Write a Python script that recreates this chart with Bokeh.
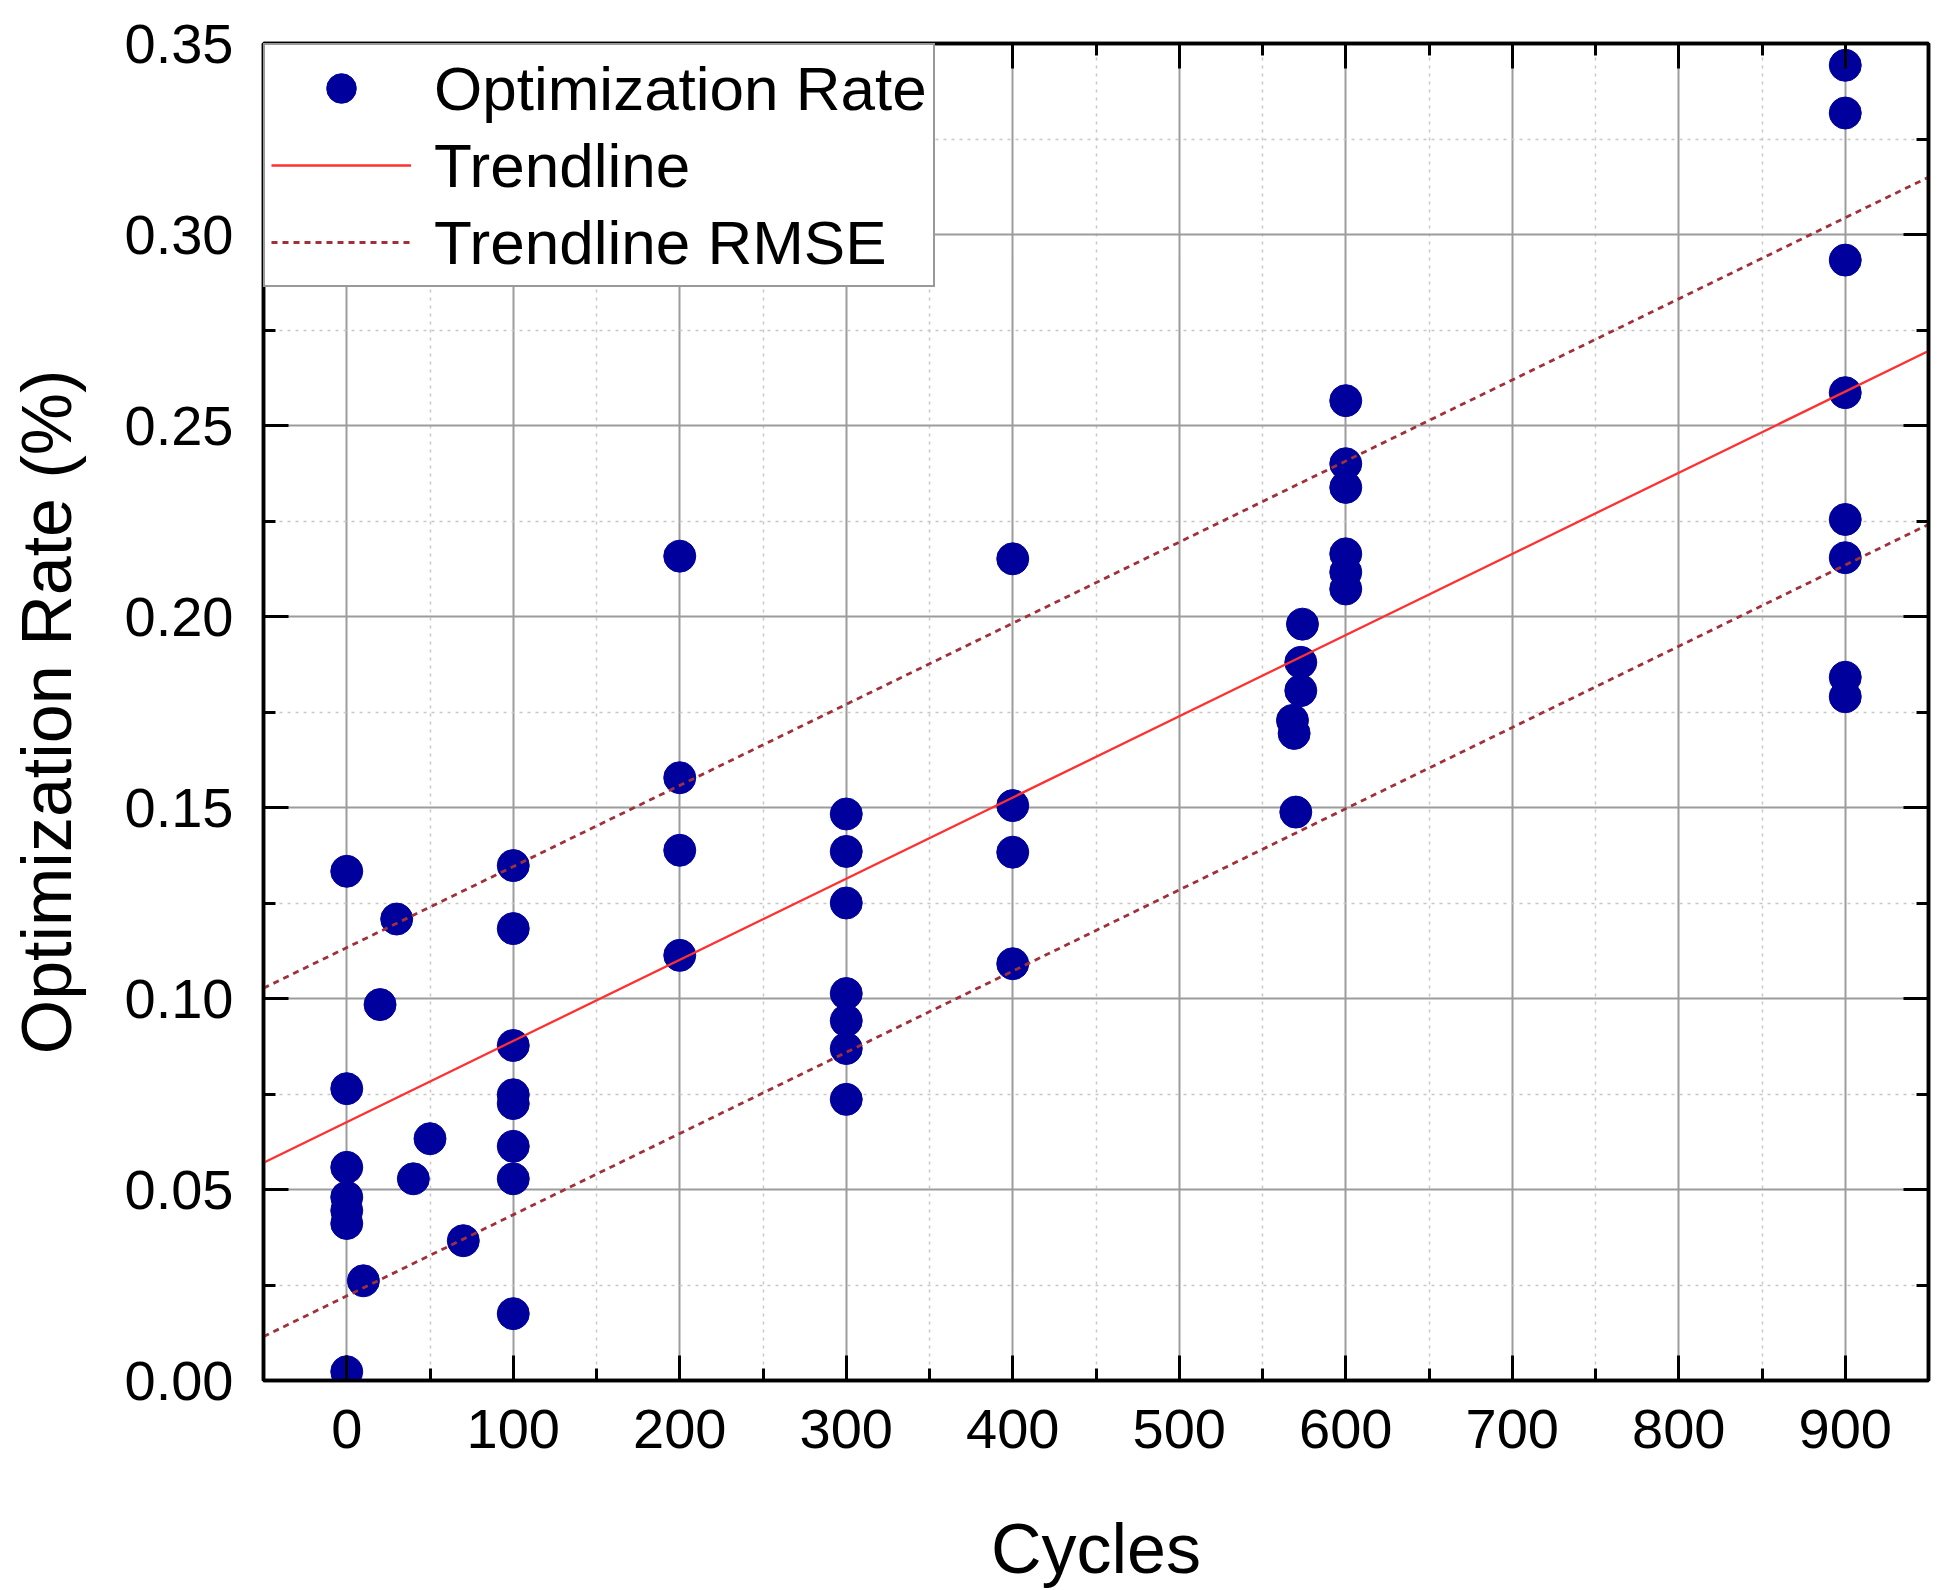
from bokeh.plotting import figure
from bokeh.models import LinearAxis, FixedTicker, PrintfTickFormatter, Legend, LegendItem
from bokeh.embed import file_html
from bokeh.resources import INLINE

# ---- data ----
cycles = [0, 0, 0, 0, 0, 0, 0,
          10, 20, 30, 40, 50, 70,
          100, 100, 100, 100, 100, 100, 100, 100,
          200, 200, 200, 200,
          300, 300, 300, 300, 300, 300, 300,
          400, 400, 400, 400,
          574, 573, 573, 568, 569, 570,
          600, 600, 600, 600, 600, 600,
          900, 900, 900, 900, 900, 900, 900, 900]
rate = [0.1333, 0.0764, 0.0558, 0.0480, 0.0445, 0.0411, 0.0023,
        0.0261, 0.0984, 0.1208, 0.0528, 0.0633, 0.0366,
        0.1348, 0.1183, 0.0877, 0.0748, 0.0725, 0.0613, 0.0528, 0.0175,
        0.2158, 0.1578, 0.1388, 0.1113,
        0.1483, 0.1385, 0.1250, 0.1013, 0.0942, 0.0869, 0.0736,
        0.2151, 0.1505, 0.1383, 0.1091,
        0.1980, 0.1880, 0.1806, 0.1728, 0.1694, 0.1488,
        0.2565, 0.2400, 0.2338, 0.2164, 0.2116, 0.2072,
        0.3443, 0.3318, 0.2933, 0.2586, 0.2254, 0.2154, 0.1841, 0.1790]

trend_x = [-50, 950]
trend_y = [0.0570, 0.2695]
rmse_upper = [0.1027, 0.3150]
rmse_lower = [0.0115, 0.2241]

x_ticks = [0, 100, 200, 300, 400, 500, 600, 700, 800, 900]
x_minor = [-50, 50, 150, 250, 350, 450, 550, 650, 750, 850, 950]
y_ticks = [0.00, 0.05, 0.10, 0.15, 0.20, 0.25, 0.30, 0.35]
y_minor = [0.025, 0.075, 0.125, 0.175, 0.225, 0.275, 0.325]

FONT = "Liberation Sans"

p = figure(width=1936, height=1590, x_range=(-50, 950), y_range=(0, 0.35),
           output_backend="svg", toolbar_location=None,
           x_axis_label="Cycles", y_axis_label="Optimization Rate (%)",
           min_border_left=263, min_border_right=8, min_border_top=43,
           min_border_bottom=209)
p.background_fill_color = "white"
p.border_fill_color = "white"
p.outline_line_color = "black"
p.outline_line_width = 3.5

xt = FixedTicker(ticks=x_ticks, minor_ticks=x_minor)
yt = FixedTicker(ticks=y_ticks, minor_ticks=y_minor)

def style_axis(ax, labels=True):
    ax.axis_line_color = "black"
    ax.axis_line_width = 3.5
    ax.major_tick_in = 25
    ax.major_tick_out = 0
    ax.minor_tick_in = 12
    ax.minor_tick_out = 0
    ax.major_tick_line_width = 3
    ax.minor_tick_line_width = 3
    ax.major_tick_line_color = "black"
    ax.minor_tick_line_color = "black"
    ax.major_label_text_font = FONT
    ax.axis_label_text_font = FONT
    ax.axis_label_text_font_style = "normal"
    ax.axis_label_text_color = "black"
    ax.major_label_text_color = "black"
    if labels:
        ax.major_label_text_font_size = "56px"
        ax.axis_label_text_font_size = "70px"
    else:
        ax.major_label_text_font_size = "0px"
        ax.major_label_standoff = 0

xa = p.xaxis[0]
ya = p.yaxis[0]
xa.ticker = xt
ya.ticker = yt
ya.formatter = PrintfTickFormatter(format="%.2f")
style_axis(xa)
style_axis(ya)
xa.major_label_standoff = 29
xa.axis_label_standoff = 59
ya.major_label_standoff = 30
ya.axis_label_standoff = 36

top = LinearAxis(ticker=FixedTicker(ticks=x_ticks, minor_ticks=x_minor))
top.major_label_overrides = {t: "" for t in x_ticks}
style_axis(top, labels=False)
p.add_layout(top, "above")
right = LinearAxis(ticker=FixedTicker(ticks=y_ticks, minor_ticks=y_minor))
right.major_label_overrides = {t: "" for t in y_ticks}
style_axis(right, labels=False)
p.add_layout(right, "right")

for g, tk in ((p.xgrid[0], xt), (p.ygrid[0], yt)):
    g.ticker = tk
    g.grid_line_color = "#9c9c9c"
    g.grid_line_width = 2
    g.minor_grid_line_color = "#c8c8c8"
    g.minor_grid_line_width = 1.5
    g.minor_grid_line_dash = "3 5"

pts = p.scatter(cycles, rate, size=32, color="#00009C", line_color="#00009C")
tl = p.line(trend_x, trend_y, line_color="#ff3030", line_width=2.3)
up = p.line(trend_x, rmse_upper, line_color="#a0303a", line_width=2.8, line_dash="6 5")
lo = p.line(trend_x, rmse_lower, line_color="#a0303a", line_width=2.8, line_dash="6 5")

legend = Legend(items=[LegendItem(label="Optimization Rate", renderers=[pts]),
                       LegendItem(label="Trendline", renderers=[tl]),
                       LegendItem(label="Trendline RMSE", renderers=[up])],
                location="top_left", margin=0, padding=6, spacing=3,
                glyph_width=140, glyph_height=74, label_height=74,
                label_standoff=23, label_text_font=FONT,
                label_text_font_size="62px", label_text_color="black",
                border_line_color="#333333", border_line_width=2.5,
                background_fill_color="white", background_fill_alpha=1.0)
p.add_layout(legend)

open("out.html", "w").write(file_html(p, INLINE))
